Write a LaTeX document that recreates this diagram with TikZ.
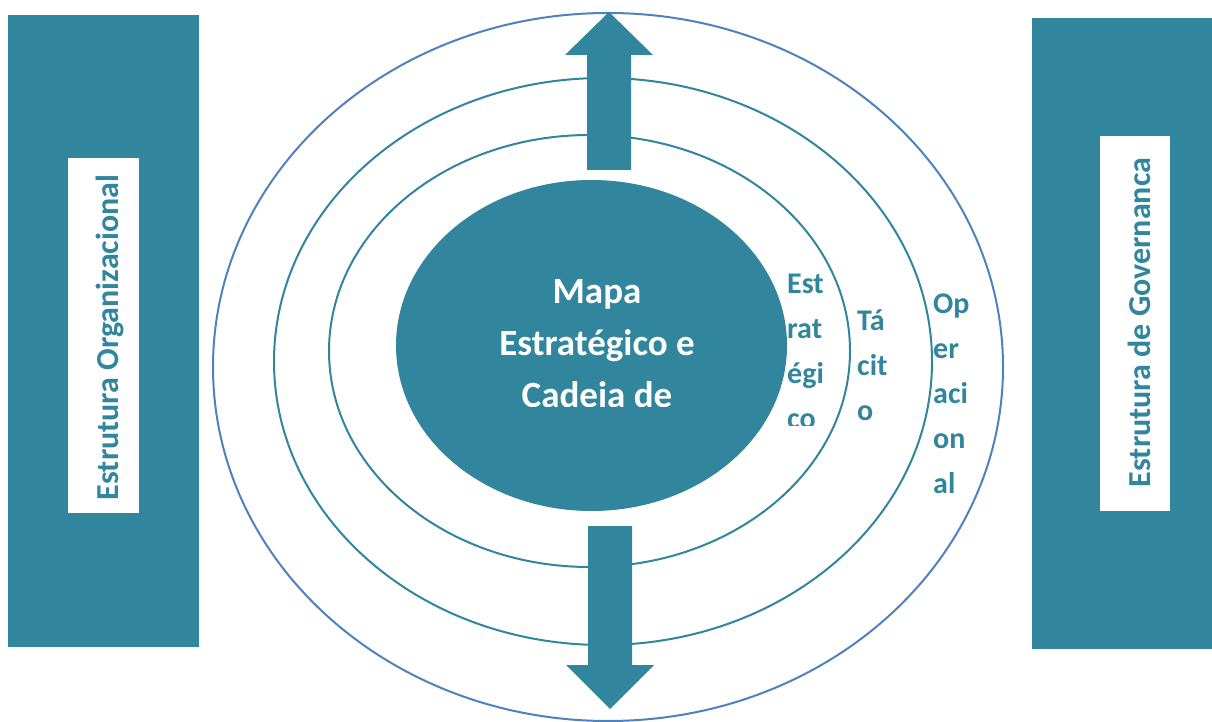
\documentclass[tikz,border=0pt]{standalone}
\usepackage{fontspec}
\setmainfont{Carlito}
\usepackage{tikz}
\usetikzlibrary{shapes.geometric, positioning}
\definecolor{petrol}{HTML}{31859C}
\definecolor{ringblue}{HTML}{4F81BD}
\tikzset{
	bar/.style={
		rectangle,
		fill=petrol,
		inner sep=0pt
	},
	labelbox/.style={
		rectangle,
		fill=white,
		inner sep=0pt
	},
	ring/.style={
		ellipse,
		draw=petrol,
		line width=2pt,
		inner sep=0pt
	},
	core/.style={
		ellipse,
		fill=petrol,
		inner sep=0pt
	},
	sidetext/.style={
		rotate=90,
		anchor=base,
		text=petrol,
		font=\fontsize{32}{38}\selectfont\bfseries
	},
	leveltext/.style={
		anchor=base west,
		align=left,
		inner sep=0pt,
		text=petrol,
		font=\fontsize{30}{45}\selectfont\bfseries
	},
	arrowshape/.style={fill=petrol, draw=none}
}

\begin{document}
\begin{tikzpicture}[x=1pt, y=-1pt]
	\useasboundingbox (0,0) rectangle (1212,722);
	% side bars
	\node (orgbar) [bar, minimum width=191pt, minimum height=632pt] at (103.5,331) {};
	\node (govbar) [bar, minimum width=180pt, minimum height=631pt] at (1122,333.5) {};
	\node (orgbox) [labelbox, minimum width=71pt, minimum height=355pt] at (103.5,335.5) {};
	\node (govbox) [labelbox, minimum width=70pt, minimum height=375pt] at (1135,323.5) {};
	\node (orgtext) [sidetext] at (118,337.5) {Estrutura Organizacional};
	\node (govtext) [sidetext] at (1150,322.5) {Estrutura de Governanca};
	
	% rings
	\node (outer) [ring, draw=ringblue, minimum width=790pt, minimum height=708pt] at (608,367) {};
	\node (middle) [ring, minimum width=658pt, minimum height=567pt] at (603,361.5) {};
	\node (inner) [ring, minimum width=521pt, minimum height=432pt] at (589.5,351) {};
	\node (map) [core, minimum width=391pt, minimum height=331pt] at (591.5,345.5) {};
	
	% arrows
	\fill [arrowshape] (587,170) -- (587,55) -- (565,55) -- (609,12) -- (653,55) -- (631,55) -- (631,170) -- cycle;
	\fill [arrowshape] (588,526) -- (588,665) -- (566,665) -- (610,709) -- (654,665) -- (632,665) -- (632,526) -- cycle;
	
	% texts (base anchor = last line)
	\begin{scope}
		\clip (400,200) rectangle (790,406);
		\node (maptext) [anchor=base, align=center, inner sep=0pt, text=white,
			font=\fontsize{37}{52}\selectfont\bfseries] at (597,407)
			{Mapa\\Estratégico e\\Cadeia de};
	\end{scope}
	\begin{scope}
		\clip (780,260) rectangle (850,425);
		\node (strat) [leveltext] at (787,428) {Est\\rat\\égi\\co};
	\end{scope}
	\node (tact) [leveltext] at (857,420) {Tá\\cit\\o};
	\node (oper) [leveltext] at (933,493) {Op\\er\\aci\\on\\al};
\end{tikzpicture}
\end{document}
